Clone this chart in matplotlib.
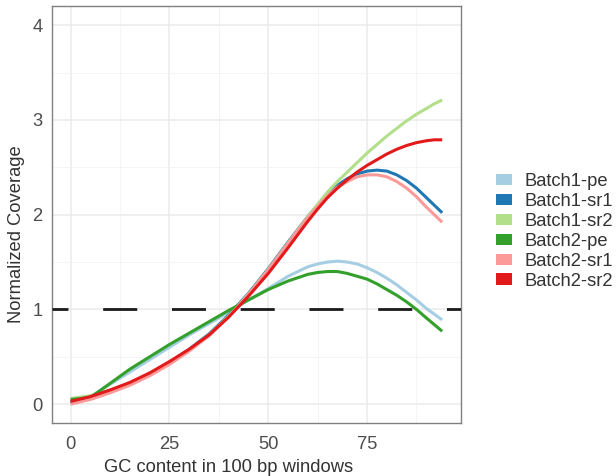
import matplotlib
matplotlib.use("Agg")
import matplotlib.pyplot as plt
from matplotlib.patches import Patch
from matplotlib.ticker import MultipleLocator

plt.rcParams['font.family'] = ['Liberation Sans', 'DejaVu Sans']
plt.rcParams['lines.scale_dashes'] = False

# GC content (%) and smoothed normalized coverage per sample
gc = [0, 5, 10, 15, 20, 25, 30, 35, 40, 45, 50, 55, 60, 62.5, 65, 67.5, 70,
      72.5, 75, 77.5, 80, 82.5, 85, 87.5, 90, 92, 94]

batch1_pe = [0.03, 0.08, 0.21, 0.34, 0.47, 0.60, 0.73, 0.85, 0.97, 1.10, 1.22,
             1.35, 1.45, 1.48, 1.50, 1.51, 1.50, 1.48, 1.44, 1.39, 1.33, 1.26,
             1.18, 1.10, 1.01, 0.95, 0.89]
batch1_sr1 = [0.01, 0.07, 0.14, 0.22, 0.32, 0.44, 0.58, 0.74, 0.94, 1.17, 1.43,
              1.71, 1.98, 2.10, 2.22, 2.31, 2.38, 2.43, 2.46, 2.47, 2.46, 2.42,
              2.36, 2.28, 2.18, 2.10, 2.02]
batch1_sr2 = [0.06, 0.09, 0.15, 0.22, 0.31, 0.43, 0.57, 0.73, 0.93, 1.16, 1.42,
              1.70, 1.98, 2.11, 2.24, 2.35, 2.45, 2.55, 2.65, 2.74, 2.83, 2.91,
              2.99, 3.06, 3.12, 3.17, 3.21]
batch2_pe = [0.05, 0.07, 0.22, 0.37, 0.50, 0.63, 0.75, 0.87, 0.99, 1.10, 1.21,
             1.30, 1.37, 1.39, 1.40, 1.40, 1.38, 1.35, 1.32, 1.27, 1.21, 1.15,
             1.08, 1.00, 0.91, 0.84, 0.77]
batch2_sr1 = [0.00, 0.05, 0.12, 0.20, 0.30, 0.42, 0.56, 0.72, 0.92, 1.16, 1.42,
              1.70, 1.97, 2.09, 2.20, 2.29, 2.35, 2.40, 2.42, 2.42, 2.40, 2.35,
              2.28, 2.19, 2.08, 2.00, 1.92]
batch2_sr2 = [0.03, 0.08, 0.15, 0.23, 0.33, 0.45, 0.58, 0.73, 0.92, 1.14, 1.38,
              1.65, 1.93, 2.06, 2.18, 2.28, 2.37, 2.45, 2.52, 2.58, 2.64, 2.69,
              2.73, 2.76, 2.78, 2.79, 2.79]

labels = ['Batch1-pe', 'Batch1-sr1', 'Batch1-sr2', 'Batch2-pe', 'Batch2-sr1', 'Batch2-sr2']
series = [batch1_pe, batch1_sr1, batch1_sr2, batch2_pe, batch2_sr1, batch2_sr2]
colors = ['#A6CEE3', '#1F78B4', '#B2DF8A', '#33A02C', '#FB9A99', '#E31A1C']

fig = plt.figure(figsize=(6.16, 4.76), dpi=100)
ax = fig.add_axes([0.0844, 0.111, 0.6636, 0.876])

for y, c in zip(series, colors):
    ax.plot(gc, y, color=c, lw=2.2, solid_capstyle='butt', solid_joinstyle='round', zorder=3)

ax.axhline(1, color='#1a1a1a', lw=2.0, linestyle=(13, (24.5, 25)), zorder=4)

ax.set_xlim(-4.7, 98.7)
ax.set_ylim(-0.2, 4.2)
ax.xaxis.set_major_locator(MultipleLocator(25))
ax.xaxis.set_minor_locator(MultipleLocator(12.5))
ax.yaxis.set_major_locator(MultipleLocator(1))
ax.yaxis.set_minor_locator(MultipleLocator(0.5))
ax.grid(which='major', color='#EBEBEB', lw=1.1, zorder=0)
ax.grid(which='minor', color='#F2F2F2', lw=0.6, zorder=0)
ax.set_axisbelow(True)
ax.tick_params(axis='x', which='both', length=0, labelsize=13.2, labelcolor='#4D4D4D', pad=9)
ax.tick_params(axis='y', which='both', length=0, labelsize=13.2, labelcolor='#4D4D4D', pad=7)
for s in ax.spines.values():
    s.set_color('#808080')
    s.set_linewidth(1.0)

ax.set_xlabel('GC content in 100 bp windows', fontsize=13.2, color='#333333')
ax.set_ylabel('Normalized Coverage', fontsize=13.2, color='#333333')
ax.xaxis.set_label_coords(0.433, -0.086)
ax.yaxis.set_label_coords(-0.066, 0.454)

handles = [Patch(facecolor=c, edgecolor='none') for c in colors]
fig.legend(handles, labels, loc='center left', bbox_to_anchor=(0.778, 0.514),
           frameon=False, fontsize=13.2, handlelength=0.86, handleheight=0.58,
           handletextpad=0.7, labelspacing=0.16, labelcolor='#333333')

fig.savefig('out.png', dpi=100)
